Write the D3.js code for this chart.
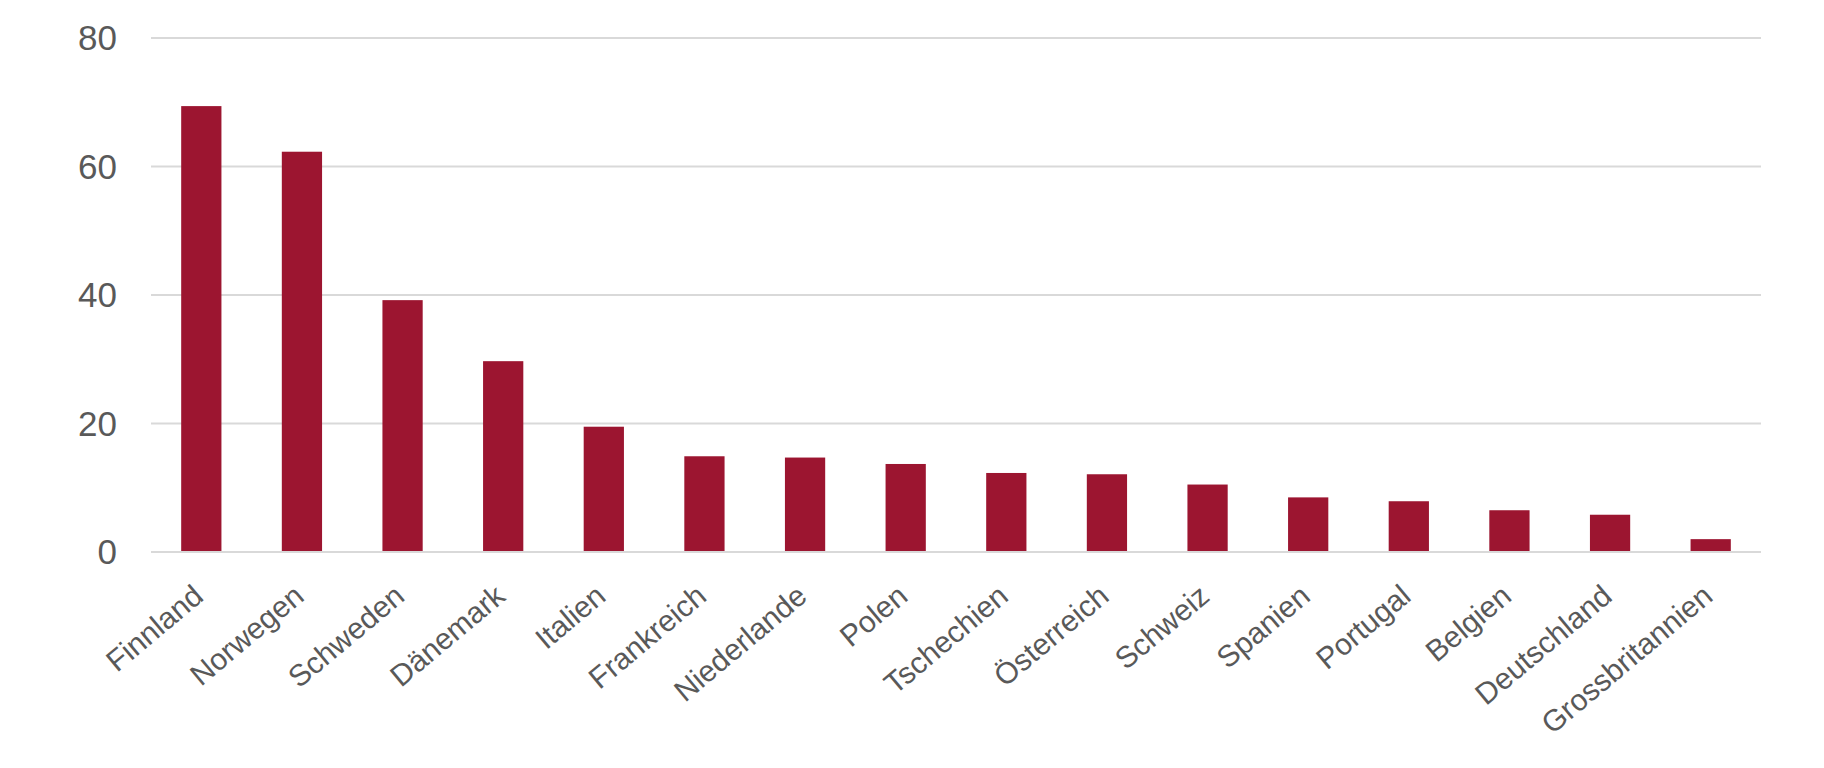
<!DOCTYPE html>
<html>
<head>
<meta charset="utf-8">
<script src="https://cdn.jsdelivr.net/npm/d3@7"></script>
<style>
  body { margin: 0; background: #fff; }
  text { font-family: "Liberation Sans", Arial, sans-serif; fill: #595959; }
</style>
</head>
<body>
<div id="chart"></div>
<script>
// data
var countries = ["Finnland", "Norwegen", "Schweden", "Dänemark", "Italien", "Frankreich",
  "Niederlande", "Polen", "Tschechien", "Österreich", "Schweiz", "Spanien", "Portugal",
  "Belgien", "Deutschland", "Grossbritannien"];
var values = [69.4, 62.3, 39.2, 29.7, 19.5, 14.9, 14.7, 13.7, 12.3, 12.1, 10.5, 8.5, 7.9, 6.5, 5.8, 2.0];
var yTicks = [0, 20, 40, 60, 80];

var width = 1824, height = 768;
var margin = {top: 38, right: 63, bottom: 216, left: 151};

var svg = d3.select("#chart").append("svg")
    .attr("width", width)
    .attr("height", height);

var x = d3.scaleBand()
    .domain(countries)
    .range([margin.left, width - margin.right])
    .paddingInner(0.6)
    .paddingOuter(0.3);

var y = d3.scaleLinear()
    .domain([0, 80])
    .range([height - margin.bottom, margin.top]);

// gridlines
svg.append("g")
  .selectAll("line")
  .data(yTicks)
  .join("line")
    .attr("x1", margin.left)
    .attr("x2", width - margin.right)
    .attr("y1", d => y(d))
    .attr("y2", d => y(d))
    .attr("stroke", "#d9d9d9")
    .attr("stroke-width", 2);

// y labels
svg.append("g")
  .selectAll("text")
  .data(yTicks)
  .join("text")
    .attr("x", 117)
    .attr("y", d => y(d))
    .attr("dy", "0.35em")
    .attr("text-anchor", "end")
    .style("font-size", "35px")
    .text(d => d);

// bars
svg.append("g")
  .selectAll("rect")
  .data(values)
  .join("rect")
    .attr("x", (d, i) => x(countries[i]))
    .attr("width", x.bandwidth())
    .attr("y", d => y(d))
    .attr("height", d => y(0) - y(d) - 1)
    .attr("fill", "#9c1530");

// category labels, rotated ~40deg
svg.append("g")
  .selectAll("text")
  .data(countries)
  .join("text")
    .attr("transform", d => "translate(" + (x(d) + x.bandwidth() / 2 - 3) + "," + (y(0) + 39) + ") rotate(-40)")
    .attr("dy", "0.35em")
    .attr("text-anchor", "end")
    .style("font-size", "30px")
    .text(d => d);
</script>
</body>
</html>
